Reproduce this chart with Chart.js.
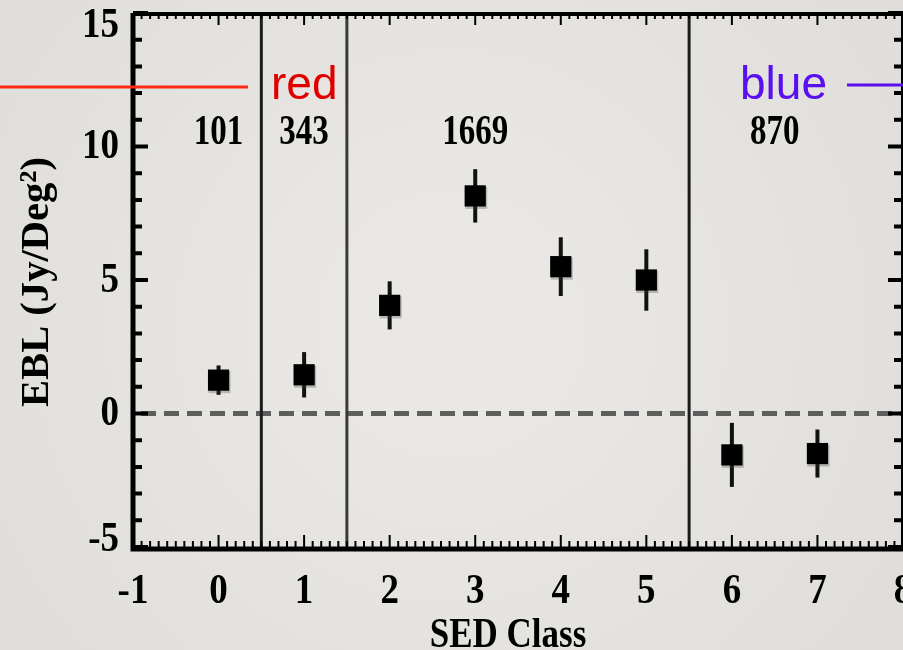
<!DOCTYPE html>
<html>
<head>
<meta charset="utf-8">
<script src="https://cdn.jsdelivr.net/npm/chart.js@4/dist/chart.umd.min.js"></script>
<style>
  html, body { margin: 0; padding: 0; background: #e7e6e2; }
  #wrap { width: 903px; height: 650px; position: relative; }
</style>
</head>
<body>
<div id="wrap"><canvas id="c" width="903" height="650"></canvas></div>
<script>
// SED class of each measurement and its EBL value (Jy/Deg^2)
const sedClass = [0, 1, 2, 3, 4, 5, 6, 7];
const eblValue = [1.25, 1.45, 4.05, 8.15, 5.5, 5.0, -1.55, -1.5];
const eblError = [0.55, 0.85, 0.9, 1.0, 1.1, 1.15, 1.2, 0.9];

// Galaxy counts per group and where they sit along the class axis
const groupCounts = ['101', '343', '1669', '870'];
const groupCountPos = [0, 1, 3, 6.5];
const groupCountY = 10.5;

// Boundaries between the groups of classes
const groupBounds = [0.5, 1.5, 5.5];

// Axis tick labels
const xTicks = [-1, 0, 1, 2, 3, 4, 5, 6, 7, 8];
const yTicks = [-5, 0, 5, 10, 15];

const SERIF = '"Liberation Serif", "DejaVu Serif", serif';
const SANS = '"Liberation Sans", Arial, sans-serif';

function stretchedText(ctx, text, x, y, size, align, sy) {
  ctx.save();
  ctx.font = 'bold ' + size + 'px ' + SERIF;
  ctx.textAlign = align;
  ctx.textBaseline = 'middle';
  ctx.translate(x, y);
  ctx.scale(1, sy);
  ctx.fillText(text, 0, 0);
  ctx.restore();
}

const decor = {
  id: 'decor',
  beforeDraw(chart) {
    const { ctx, width, height } = chart;
    const g = ctx.createRadialGradient(width / 2, height / 2, 100, width / 2, height / 2, 620);
    g.addColorStop(0, '#e9e8e4');
    g.addColorStop(1, '#dddcd8');
    ctx.save();
    ctx.fillStyle = g;
    ctx.fillRect(0, 0, width, height);
    ctx.restore();
  },
  beforeDatasetsDraw(chart) {
    const { ctx, chartArea: a, scales: { x, y } } = chart;
    ctx.save();
    // zero line
    ctx.strokeStyle = '#5e5e5e';
    ctx.lineWidth = 5;
    ctx.setLineDash([15, 8]);
    const y0 = y.getPixelForValue(0);
    ctx.beginPath();
    ctx.moveTo(a.left + 8, y0);
    ctx.lineTo(a.right, y0);
    ctx.stroke();
    ctx.setLineDash([]);
    // group separators
    groupBounds.forEach((b, i) => {
      const px = x.getPixelForValue(b);
      ctx.strokeStyle = i === 1 ? '#3a3a3a' : '#1c1c1c';
      ctx.lineWidth = 3;
      ctx.beginPath();
      ctx.moveTo(px, a.top);
      ctx.lineTo(px, a.bottom);
      ctx.stroke();
    });
    // error bars
    ctx.strokeStyle = '#111';
    ctx.lineWidth = 4;
    sedClass.forEach((c, i) => {
      const px = x.getPixelForValue(c);
      ctx.beginPath();
      ctx.moveTo(px, y.getPixelForValue(eblValue[i] + eblError[i]));
      ctx.lineTo(px, y.getPixelForValue(eblValue[i] - eblError[i]));
      ctx.stroke();
    });
    // faint offset shade behind each marker
    ctx.fillStyle = 'rgba(70,70,70,0.3)';
    sedClass.forEach((c, i) => {
      const px = x.getPixelForValue(c);
      const py = y.getPixelForValue(eblValue[i]);
      ctx.fillRect(px - 10, py - 9, 22, 22);
    });
    ctx.restore();
  },
  afterDatasetsDraw(chart) {
    const { ctx, chartArea: a, scales: { x, y } } = chart;
    ctx.save();
    ctx.fillStyle = '#000';
    ctx.strokeStyle = '#000';

    // frame
    ctx.lineWidth = 5;
    ctx.beginPath();
    ctx.moveTo(a.left, a.top);
    ctx.lineTo(a.left, a.bottom + 2);
    ctx.lineTo(a.right, a.bottom + 2);
    ctx.stroke();
    ctx.lineWidth = 4;
    ctx.beginPath();
    ctx.moveTo(a.left, a.top + 1);
    ctx.lineTo(a.right, a.top + 1);
    ctx.stroke();
    ctx.beginPath();
    ctx.moveTo(a.right, a.top);
    ctx.lineTo(a.right, a.bottom);
    ctx.stroke();

    // x ticks (minor every 0.1, major on integers)
    ctx.lineWidth = 2;
    for (let k = -10; k <= 80; k++) {
      const v = k / 10;
      const px = x.getPixelForValue(v);
      const major = k % 10 === 0;
      const len = major ? 12 : 6;
      ctx.beginPath();
      ctx.moveTo(px, a.bottom);
      ctx.lineTo(px, a.bottom - len);
      ctx.moveTo(px, a.top);
      ctx.lineTo(px, a.top + len);
      ctx.stroke();
    }
    // y ticks (minor every 1, major every 5)
    ctx.lineWidth = 4;
    for (let v = -5; v <= 15; v++) {
      const py = y.getPixelForValue(v);
      const major = v % 5 === 0;
      const len = major ? 15 : 9;
      ctx.beginPath();
      ctx.moveTo(a.left, py);
      ctx.lineTo(a.left + len, py);
      ctx.moveTo(a.right, py);
      ctx.lineTo(a.right - len, py);
      ctx.stroke();
    }

    // tick labels (end labels kept inside the frame height)
    yTicks.forEach(v => {
      let py = y.getPixelForValue(v) + 1;
      py = Math.min(Math.max(py, a.top + 13), a.bottom - 7);
      stretchedText(ctx, String(v), a.left - 14, py, 37, 'right', 1.15);
    });
    xTicks.forEach(v => {
      stretchedText(ctx, String(v), x.getPixelForValue(v), 592, 37, 'center', 1.15);
    });

    // counts per group
    groupCounts.forEach((t, i) => {
      stretchedText(ctx, t, x.getPixelForValue(groupCountPos[i]), y.getPixelForValue(groupCountY), 33, 'center', 1.25);
    });

    // axis titles
    ctx.save();
    ctx.translate(37, 282);
    ctx.rotate(-Math.PI / 2);
    ctx.font = 'bold 34px ' + SERIF;
    const title = 'EBL (Jy/Deg\u00B2)';
    const w = ctx.measureText(title).width;
    ctx.scale(250 / w, 1.2);
    ctx.textAlign = 'center';
    ctx.textBaseline = 'middle';
    ctx.fillText(title, 0, 0);
    ctx.restore();
    stretchedText(ctx, 'SED Class', 508, 636, 35, 'center', 1.2);

    // red / blue markers
    const yMark = 87;
    ctx.lineWidth = 3;
    ctx.strokeStyle = '#ff2a12';
    ctx.beginPath();
    ctx.moveTo(0, yMark);
    ctx.lineTo(248, yMark);
    ctx.stroke();
    ctx.fillStyle = '#e00000';
    ctx.font = '46px ' + SANS;
    ctx.textAlign = 'left';
    ctx.textBaseline = 'alphabetic';
    ctx.fillText('red', 271, 99);
    ctx.strokeStyle = '#5a0fee';
    ctx.beginPath();
    ctx.moveTo(847, yMark - 2);
    ctx.lineTo(903, yMark - 2);
    ctx.stroke();
    ctx.fillStyle = '#5a0fee';
    ctx.fillText('blue', 740, 99);

    ctx.restore();
  }
};

new Chart(document.getElementById('c'), {
  type: 'scatter',
  data: {
    datasets: [{
      label: 'EBL',
      data: sedClass.map((c, i) => ({ x: c, y: eblValue[i] })),
      pointStyle: 'rect',
      radius: 15,
      hoverRadius: 15,
      backgroundColor: '#000',
      borderColor: '#000',
      borderWidth: 0
    }]
  },
  options: {
    responsive: false,
    animation: false,
    layout: { autoPadding: false, padding: { left: 133, right: 0, top: 13, bottom: 103 } },
    plugins: { legend: { display: false }, tooltip: { enabled: false } },
    scales: {
      x: { type: 'linear', min: -1, max: 8, display: false },
      y: { type: 'linear', min: -5, max: 15, display: false }
    }
  },
  plugins: [decor]
});
</script>
</body>
</html>
